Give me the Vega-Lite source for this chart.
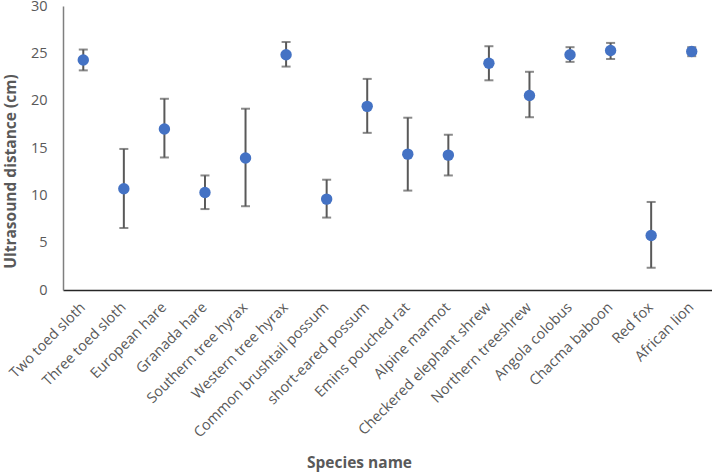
{
  "$schema": "https://vega.github.io/schema/vega-lite/v6.json",
  "width": 649,
  "height": 284,
  "autosize": {"type": "none"},
  "padding": {"left": 63, "top": 6, "right": 0, "bottom": 185},
  "background": "white",
  "config": {
    "view": {"stroke": null},
    "font": "Open Sans",
    "axis": {"grid": false, "ticks": false, "labelColor": "#595959", "titleColor": "#595959", "labelFont": "Open Sans", "titleFont": "Open Sans"}
  },
  "data": {
    "values": [
      {"species": "Two toed sloth", "mean": 24.3, "lo": 23.2, "hi": 25.4},
      {"species": "Three toed sloth", "mean": 10.7, "lo": 6.55, "hi": 14.9},
      {"species": "European hare", "mean": 17.0, "lo": 14.0, "hi": 20.2},
      {"species": "Granada hare", "mean": 10.3, "lo": 8.55, "hi": 12.1},
      {"species": "Southern tree hyrax", "mean": 13.95, "lo": 8.85, "hi": 19.15},
      {"species": "Western tree hyrax", "mean": 24.85, "lo": 23.6, "hi": 26.2},
      {"species": "Common brushtail possum", "mean": 9.6, "lo": 7.65, "hi": 11.65},
      {"species": "short-eared possum", "mean": 19.4, "lo": 16.6, "hi": 22.3},
      {"species": "Emins pouched rat", "mean": 14.35, "lo": 10.5, "hi": 18.2},
      {"species": "Alpine marmot", "mean": 14.25, "lo": 12.1, "hi": 16.4},
      {"species": "Checkered elephant shrew", "mean": 23.95, "lo": 22.15, "hi": 25.75},
      {"species": "Northern treeshrew", "mean": 20.55, "lo": 18.25, "hi": 23.05},
      {"species": "Angola colobus", "mean": 24.85, "lo": 24.1, "hi": 25.65},
      {"species": "Chacma baboon", "mean": 25.3, "lo": 24.4, "hi": 26.1},
      {"species": "Red fox", "mean": 5.75, "lo": 2.35, "hi": 9.3},
      {"species": "African lion", "mean": 25.2, "lo": 24.7, "hi": 25.65}
    ]
  },
  "encoding": {
    "x": {
      "field": "species",
      "type": "nominal",
      "sort": null,
      "scale": {"paddingInner": 0, "paddingOuter": 0},
      "axis": {
        "title": "Species name",
        "labelAngle": -45,
        "labelAlign": "right",
        "labelBaseline": "middle",
        "labelPadding": 15,
        "labelFontSize": 14.5,
        "labelLimit": 300,
        "domainColor": "#262626",
        "domainWidth": 1.5,
        "titleFontSize": 15.5,
        "titleFontWeight": "bold",
        "titleX": 296,
        "titleY": 172,
        "titleAlign": "center",
        "titleBaseline": "middle"
      }
    }
  },
  "layer": [
    {
      "mark": {"type": "rule", "color": "#595959", "strokeWidth": 2},
      "encoding": {
        "y": {
          "field": "lo",
          "type": "quantitative",
          "scale": {"domain": [0, 30]},
          "axis": {
            "title": "Ultrasound distance (cm)",
            "values": [0, 5, 10, 15, 20, 25, 30],
            "labelFontSize": 14.5,
            "labelPadding": 16,
            "domainColor": "#7f7f7f",
            "domainWidth": 1.5,
            "titleFontSize": 15.5,
            "titleFontWeight": "bold",
            "titleX": -53,
            "titleY": 165,
            "titleAlign": "center",
            "titleBaseline": "middle"
          }
        },
        "y2": {"field": "hi"}
      }
    },
    {
      "mark": {"type": "tick", "color": "#595959", "thickness": 2, "size": 9, "orient": "horizontal"},
      "encoding": {"y": {"field": "lo", "type": "quantitative"}}
    },
    {
      "mark": {"type": "tick", "color": "#595959", "thickness": 2, "size": 9, "orient": "horizontal"},
      "encoding": {"y": {"field": "hi", "type": "quantitative"}}
    },
    {
      "mark": {"type": "point", "filled": true, "color": "#4472C4", "opacity": 1, "size": 130},
      "encoding": {"y": {"field": "mean", "type": "quantitative"}}
    }
  ]
}
